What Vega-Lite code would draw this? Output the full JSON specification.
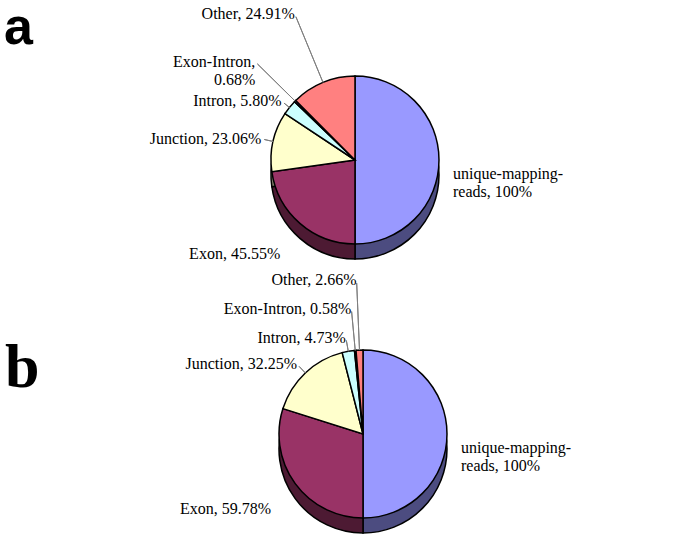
{
  "$schema": "https://vega.github.io/schema/vega-lite/v6.json",
  "background": "white",
  "padding": 0,
  "spacing": 0,
  "bounds": "flush",
  "config": {
    "view": {"stroke": null},
    "text": {"font": "Liberation Serif", "fontSize": 16, "lineHeight": 18, "color": "black", "lineBreak": "\n"},
    "arc": {"stroke": "black", "strokeWidth": 1.5}
  },
  "datasets": {
    "reads": [
      {"panel": "a", "rank": 1, "category": "unique-mapping-reads", "pct": 100, "label": "unique-mapping-\nreads, 100%"},
      {"panel": "a", "rank": 2, "category": "Exon", "pct": 45.55, "label": "Exon, 45.55%"},
      {"panel": "a", "rank": 3, "category": "Junction", "pct": 23.06, "label": "Junction, 23.06%"},
      {"panel": "a", "rank": 4, "category": "Intron", "pct": 5.80, "label": "Intron, 5.80%"},
      {"panel": "a", "rank": 5, "category": "Exon-Intron", "pct": 0.68, "label": "Exon-Intron,\n0.68%"},
      {"panel": "a", "rank": 6, "category": "Other", "pct": 24.91, "label": "Other, 24.91%"},
      {"panel": "b", "rank": 1, "category": "unique-mapping-reads", "pct": 100, "label": "unique-mapping-\nreads, 100%"},
      {"panel": "b", "rank": 2, "category": "Exon", "pct": 59.78, "label": "Exon, 59.78%"},
      {"panel": "b", "rank": 3, "category": "Junction", "pct": 32.25, "label": "Junction, 32.25%"},
      {"panel": "b", "rank": 4, "category": "Intron", "pct": 4.73, "label": "Intron, 4.73%"},
      {"panel": "b", "rank": 5, "category": "Exon-Intron", "pct": 0.58, "label": "Exon-Intron, 0.58%"},
      {"panel": "b", "rank": 6, "category": "Other", "pct": 2.66, "label": "Other, 2.66%"}
    ]
  },
  "vconcat": [
    {
      "width": 673,
      "height": 266,
      "title": {"text": "a", "anchor": "start", "frame": "group", "font": "Liberation Sans", "fontSize": 52, "fontWeight": "bold", "baseline": "alphabetic", "offset": -96, "dx": 4},
      "data": {"name": "reads"},
      "transform": [{"filter": "datum.panel === 'a'"}],
      "encoding": {
        "theta": {"field": "pct", "type": "quantitative", "stack": true},
        "order": {"field": "rank", "type": "quantitative"}
      },
      "layer": [
        {
          "mark": {"type": "arc", "outerRadius": 84, "xOffset": 18.5, "yOffset": 42},
          "encoding": {
            "fill": {"field": "category", "type": "nominal", "legend": null,
              "scale": {"domain": ["unique-mapping-reads", "Exon", "Junction", "Intron", "Exon-Intron", "Other"],
                        "range": ["#4c4c80", "#4d1a33", "#80806a", "#6a8080", "#330033", "#804040"]}}
          }
        },
        {
          "mark": {"type": "arc", "outerRadius": 84, "xOffset": 18.5, "yOffset": 27},
          "encoding": {
            "color": {"field": "category", "type": "nominal", "legend": null,
              "scale": {"domain": ["unique-mapping-reads", "Exon", "Junction", "Intron", "Exon-Intron", "Other"],
                        "range": ["#9999ff", "#993366", "#ffffcc", "#ccffff", "#660066", "#ff8080"]}}
          }
        },
        {
          "mark": {"type": "arc", "innerRadius": 84, "outerRadius": 93, "padAngle": 3, "fill": "transparent", "stroke": "#7f7f7f", "strokeWidth": 1, "xOffset": 18.5, "yOffset": 27},
          "encoding": {"strokeOpacity": {"condition": {"test": "datum.category === 'Junction'", "value": 1}, "value": 0}}
        },
        {
          "mark": {"type": "arc", "innerRadius": 84, "outerRadius": 91, "padAngle": 3, "fill": "transparent", "stroke": "#7f7f7f", "strokeWidth": 1, "xOffset": 18.5, "yOffset": 27},
          "encoding": {"strokeOpacity": {"condition": {"test": "datum.category === 'Intron'", "value": 1}, "value": 0}}
        },
        {
          "mark": {"type": "arc", "innerRadius": 84, "outerRadius": 137, "padAngle": 3, "fill": "transparent", "stroke": "#7f7f7f", "strokeWidth": 1, "xOffset": 18.5, "yOffset": 27},
          "encoding": {"strokeOpacity": {"condition": {"test": "datum.category === 'Exon-Intron'", "value": 1}, "value": 0}}
        },
        {
          "mark": {"type": "arc", "innerRadius": 84, "outerRadius": 155, "padAngle": 3, "fill": "transparent", "stroke": "#7f7f7f", "strokeWidth": 1, "xOffset": 18.5, "yOffset": 27},
          "encoding": {"strokeOpacity": {"condition": {"test": "datum.category === 'Other'", "value": 1}, "value": 0}}
        },
        {
          "mark": {"type": "text", "radius": 98, "align": "left", "baseline": "middle", "xOffset": 18.5, "yOffset": 41},
          "encoding": {"text": {"condition": {"test": "datum.category === 'unique-mapping-reads'", "field": "label"}, "value": ""}}
        },
        {
          "mark": {"type": "text", "radius": 114, "align": "right", "baseline": "top", "xOffset": 18.5, "yOffset": 27},
          "encoding": {"text": {"condition": {"test": "datum.category === 'Exon'", "field": "label"}, "value": ""}}
        },
        {
          "mark": {"type": "text", "radius": 96, "align": "right", "baseline": "middle", "xOffset": 18.5, "yOffset": 27},
          "encoding": {"text": {"condition": {"test": "datum.category === 'Junction'", "field": "label"}, "value": ""}}
        },
        {
          "mark": {"type": "text", "radius": 94, "align": "right", "baseline": "middle", "xOffset": 18.5, "yOffset": 27},
          "encoding": {"text": {"condition": {"test": "datum.category === 'Intron'", "field": "label"}, "value": ""}}
        },
        {
          "mark": {"type": "text", "radius": 140, "align": "right", "baseline": "middle", "xOffset": 18.5, "yOffset": 27},
          "encoding": {"text": {"condition": {"test": "datum.category === 'Exon-Intron'", "field": "label"}, "value": ""}}
        },
        {
          "mark": {"type": "text", "radius": 158, "align": "right", "baseline": "middle", "xOffset": 18.5, "yOffset": 27},
          "encoding": {"text": {"condition": {"test": "datum.category === 'Other'", "field": "label"}, "value": ""}}
        }
      ]
    },
    {
      "width": 673,
      "height": 272,
      "title": {"text": "b", "anchor": "start", "frame": "group", "font": "Liberation Serif", "fontSize": 62, "fontWeight": "bold", "baseline": "alphabetic", "offset": -183, "dx": 5},
      "data": {"name": "reads"},
      "transform": [{"filter": "datum.panel === 'b'"}],
      "encoding": {
        "theta": {"field": "pct", "type": "quantitative", "stack": true},
        "order": {"field": "rank", "type": "quantitative"}
      },
      "layer": [
        {
          "mark": {"type": "arc", "outerRadius": 84, "xOffset": 26.5, "yOffset": 47},
          "encoding": {
            "fill": {"field": "category", "type": "nominal", "legend": null,
              "scale": {"domain": ["unique-mapping-reads", "Exon", "Junction", "Intron", "Exon-Intron", "Other"],
                        "range": ["#4c4c80", "#4d1a33", "#80806a", "#6a8080", "#330033", "#804040"]}}
          }
        },
        {
          "mark": {"type": "arc", "outerRadius": 84, "xOffset": 26.5, "yOffset": 32},
          "encoding": {
            "color": {"field": "category", "type": "nominal", "legend": null,
              "scale": {"domain": ["unique-mapping-reads", "Exon", "Junction", "Intron", "Exon-Intron", "Other"],
                        "range": ["#9999ff", "#993366", "#ffffcc", "#ccffff", "#660066", "#ff8080"]}}
          }
        },
        {
          "mark": {"type": "arc", "innerRadius": 84, "outerRadius": 93, "padAngle": 3, "fill": "transparent", "stroke": "#7f7f7f", "strokeWidth": 1, "xOffset": 26.5, "yOffset": 32},
          "encoding": {"strokeOpacity": {"condition": {"test": "datum.category === 'Junction'", "value": 1}, "value": 0}}
        },
        {
          "mark": {"type": "arc", "innerRadius": 84, "outerRadius": 95, "padAngle": 3, "fill": "transparent", "stroke": "#7f7f7f", "strokeWidth": 1, "xOffset": 26.5, "yOffset": 32},
          "encoding": {"strokeOpacity": {"condition": {"test": "datum.category === 'Intron'", "value": 1}, "value": 0}}
        },
        {
          "mark": {"type": "arc", "innerRadius": 84, "outerRadius": 123, "padAngle": 3, "fill": "transparent", "stroke": "#7f7f7f", "strokeWidth": 1, "xOffset": 26.5, "yOffset": 32},
          "encoding": {"strokeOpacity": {"condition": {"test": "datum.category === 'Exon-Intron'", "value": 1}, "value": 0}}
        },
        {
          "mark": {"type": "arc", "innerRadius": 84, "outerRadius": 151, "padAngle": 3, "fill": "transparent", "stroke": "#7f7f7f", "strokeWidth": 1, "xOffset": 26.5, "yOffset": 32},
          "encoding": {"strokeOpacity": {"condition": {"test": "datum.category === 'Other'", "value": 1}, "value": 0}}
        },
        {
          "mark": {"type": "text", "radius": 98, "align": "left", "baseline": "middle", "xOffset": 26.5, "yOffset": 46},
          "encoding": {"text": {"condition": {"test": "datum.category === 'unique-mapping-reads'", "field": "label"}, "value": ""}}
        },
        {
          "mark": {"type": "text", "radius": 114, "align": "right", "baseline": "top", "xOffset": 26.5, "yOffset": 32},
          "encoding": {"text": {"condition": {"test": "datum.category === 'Exon'", "field": "label"}, "value": ""}}
        },
        {
          "mark": {"type": "text", "radius": 96, "align": "right", "baseline": "middle", "xOffset": 26.5, "yOffset": 32},
          "encoding": {"text": {"condition": {"test": "datum.category === 'Junction'", "field": "label"}, "value": ""}}
        },
        {
          "mark": {"type": "text", "radius": 98, "align": "right", "baseline": "middle", "xOffset": 26.5, "yOffset": 32},
          "encoding": {"text": {"condition": {"test": "datum.category === 'Intron'", "field": "label"}, "value": ""}}
        },
        {
          "mark": {"type": "text", "radius": 126, "align": "right", "baseline": "middle", "xOffset": 26.5, "yOffset": 32},
          "encoding": {"text": {"condition": {"test": "datum.category === 'Exon-Intron'", "field": "label"}, "value": ""}}
        },
        {
          "mark": {"type": "text", "radius": 154, "align": "right", "baseline": "middle", "xOffset": 26.5, "yOffset": 32},
          "encoding": {"text": {"condition": {"test": "datum.category === 'Other'", "field": "label"}, "value": ""}}
        }
      ]
    }
  ]
}
